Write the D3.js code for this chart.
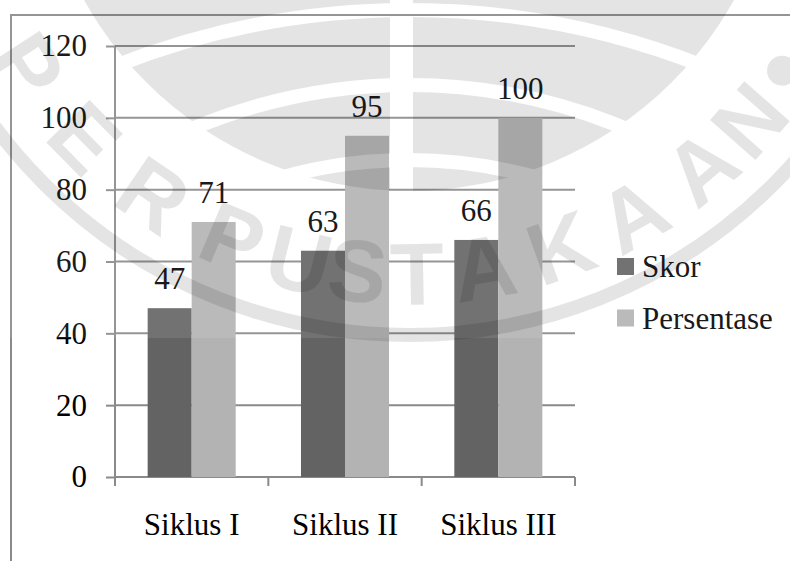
<!DOCTYPE html>
<html>
<head>
<meta charset="utf-8">
<script src="https://cdn.jsdelivr.net/npm/d3@7"></script>
<style>
  body { margin: 0; background: #fff; }
  svg { display: block; }
</style>
</head>
<body>
<svg id="chart" width="790" height="561"></svg>
<script>
// ---- data ----
const categories = ["Siklus I", "Siklus II", "Siklus III"];
const seriesNames = ["Skor", "Persentase"];
const skor = [47, 63, 66];
const persentase = [71, 95, 100];
const yTicks = [0, 20, 40, 60, 80, 100, 120];
const seriesColors = ["#636363", "#b3b3b3"];
const watermarkWord = "PERPUSTAKAAN";

const seriesValues = [skor, persentase];
const rows = categories.map((c, i) => ({
  category: c,
  values: seriesNames.map((s, j) => ({ series: s, value: seriesValues[j][i], color: seriesColors[j] }))
}));

// ---- layout ----
const W = 790, H = 561;
const plot = { left: 115, right: 575, top: 46, bottom: 477 };
const lineColor = "#8a8a8a";
const serif = '"Liberation Serif", "Times New Roman", serif';
const fontSize = "31px";

const svg = d3.select("#chart");

// outer chart frame (runs past the right and bottom edges)
svg.append("rect")
  .attr("x", 11).attr("y", 15)
  .attr("width", W + 20).attr("height", H + 20)
  .attr("fill", "#fff")
  .attr("stroke", lineColor).attr("stroke-width", 2);

const y = d3.scaleLinear().domain([0, 120]).range([plot.bottom, plot.top]);
const x0 = d3.scaleBand().domain(categories).range([plot.left, plot.right]);
const x1 = d3.scaleBand().domain(seriesNames).range([0, x0.bandwidth()])
  .paddingInner(0).paddingOuter(0.742);

// horizontal gridlines
svg.append("g").selectAll("line")
  .data(yTicks)
  .join("line")
  .attr("x1", plot.left).attr("x2", plot.right)
  .attr("y1", d => y(d)).attr("y2", d => y(d))
  .attr("stroke", lineColor).attr("stroke-width", 2);

// value axis: tick marks + labels
const yAxis = svg.append("g")
  .attr("transform", `translate(${plot.left},0)`)
  .call(d3.axisLeft(y).tickValues(yTicks).tickSize(9).tickPadding(19).tickFormat(d3.format("d")));
yAxis.attr("font-family", serif).attr("font-size", fontSize);
yAxis.select(".domain").remove();
yAxis.selectAll(".tick line").attr("stroke", lineColor).attr("stroke-width", 2);
yAxis.selectAll(".tick text")
  .attr("fill", "#000")
  .style("font-family", serif)
  .style("font-size", fontSize);

// vertical axis line (runs down past the baseline)
svg.append("line")
  .attr("x1", plot.left).attr("x2", plot.left)
  .attr("y1", plot.top).attr("y2", plot.bottom + 9)
  .attr("stroke", lineColor).attr("stroke-width", 2);

// category axis: labels
const xAxis = svg.append("g")
  .attr("transform", `translate(0,${plot.bottom})`)
  .call(d3.axisBottom(x0).tickSize(0).tickPadding(36));
xAxis.attr("font-family", serif).attr("font-size", fontSize);
xAxis.select(".domain").remove();
xAxis.selectAll(".tick text")
  .attr("fill", "#000")
  .style("font-family", serif)
  .style("font-size", fontSize);

// category separators below the baseline
const boundaries = categories.map(c => x0(c)).concat([x0.range()[1]]);
svg.append("g").selectAll("line")
  .data(boundaries)
  .join("line")
  .attr("x1", d => d).attr("x2", d => d)
  .attr("y1", plot.bottom).attr("y2", plot.bottom + 9)
  .attr("stroke", lineColor).attr("stroke-width", 2);

// bars
const groups = svg.append("g").selectAll("g")
  .data(rows)
  .join("g")
  .attr("transform", d => `translate(${x0(d.category)},0)`);

groups.selectAll("rect")
  .data(d => d.values)
  .join("rect")
  .attr("x", d => x1(d.series))
  .attr("width", x1.bandwidth())
  .attr("y", d => y(d.value))
  .attr("height", d => y(0) - y(d.value))
  .attr("fill", d => d.color);

// value labels
groups.selectAll("text")
  .data(d => d.values)
  .join("text")
  .attr("x", d => x1(d.series) + x1.bandwidth() / 2)
  .attr("y", d => y(d.value) - 19)
  .attr("text-anchor", "middle")
  .attr("fill", "#000")
  .style("font-family", serif)
  .style("font-size", fontSize)
  .text(d => d.value);

// legend
const legend = svg.append("g").attr("transform", "translate(617,258)");
const items = legend.selectAll("g")
  .data(seriesNames)
  .join("g")
  .attr("transform", (d, i) => `translate(0,${i * 51.5})`);
items.append("rect")
  .attr("width", 17).attr("height", 17)
  .attr("fill", (d, i) => seriesColors[i]);
items.append("text")
  .attr("x", 25).attr("y", 19)
  .attr("fill", "#000")
  .style("font-family", serif)
  .style("font-size", fontSize)
  .text(d => d);

// ---- library emblem watermark over the page ----
const cx = 409, cy = -181;
svg.append("rect")
  .attr("x", 0).attr("y", 0).attr("width", W).attr("height", 338)
  .attr("fill", "#fff").attr("opacity", 0.1);

const defs = svg.append("defs");
const mask = defs.append("mask")
  .attr("id", "emblem")
  .attr("maskUnits", "userSpaceOnUse")
  .attr("x", 0).attr("y", 0).attr("width", W).attr("height", H);

mask.append("circle").attr("cx", cx).attr("cy", cy).attr("r", 372).attr("fill", "#fff");
[[10, 800], [85, 560], [160, 474]].forEach(([peak, r]) => {
  mask.append("circle")
    .attr("cx", cx).attr("cy", peak + r).attr("r", r)
    .attr("fill", "none").attr("stroke", "#000").attr("stroke-width", 14);
});
mask.append("rect").attr("x", 390).attr("y", -10).attr("width", 23).attr("height", 217).attr("fill", "#000");

const letterAngles = [-57, -45.5, -34.2, -22.8, -14, -6.5, 1, 9.5, 19.5, 29.5, 40, 48.5];
const letterR = 455;
mask.selectAll("text")
  .data(watermarkWord.split(""))
  .join("text")
  .attr("transform", (d, i) => {
    const a = letterAngles[i] * Math.PI / 180;
    const px = cx + letterR * Math.sin(a), py = cy + letterR * Math.cos(a);
    return `translate(${px},${py}) rotate(${-letterAngles[i]})`;
  })
  .attr("text-anchor", "middle")
  .attr("dominant-baseline", "central")
  .attr("fill", "#fff")
  .style("font-family", '"Liberation Sans", Arial, sans-serif')
  .style("font-weight", "bold")
  .style("font-size", "88px")
  .text(d => d);

mask.append("circle").attr("cx", cx).attr("cy", cy).attr("r", 516)
  .attr("fill", "none").attr("stroke", "#fff").attr("stroke-width", 14);
{
  const a = 56 * Math.PI / 180;
  mask.append("circle")
    .attr("cx", cx + 450 * Math.sin(a)).attr("cy", cy + 450 * Math.cos(a))
    .attr("r", 15).attr("fill", "#fff");
}

svg.append("rect")
  .attr("x", 0).attr("y", 0).attr("width", W).attr("height", H)
  .attr("fill", "#000").attr("opacity", 0.1)
  .attr("mask", "url(#emblem)");
</script>
</body>
</html>
